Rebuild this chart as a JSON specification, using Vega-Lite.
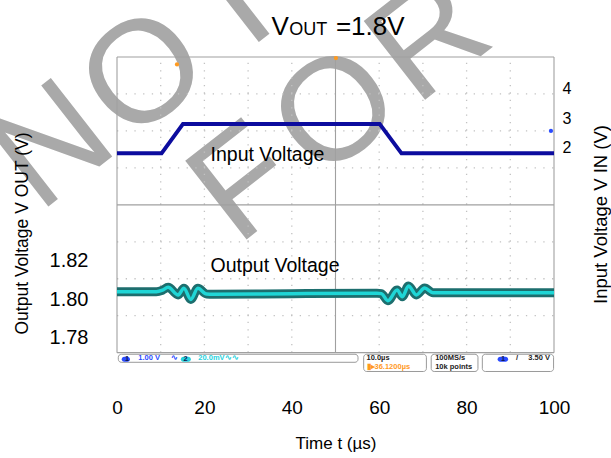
{
  "$schema": "https://vega.github.io/schema/vega-lite/v6.json",
  "width": 437,
  "height": 316,
  "autosize": {"type": "none"},
  "padding": {"left": 117, "top": 57, "right": 57, "bottom": 85},
  "background": "white",
  "config": {
    "view": {"stroke": null},
    "font": "Liberation Sans",
    "text": {"font": "Liberation Sans"},
    "axis": {"domain": false, "ticks": false, "grid": false, "labelFont": "Liberation Sans", "titleFont": "Liberation Sans", "labelColor": "#000000", "titleColor": "#000000", "titleFontWeight": "normal", "labelFlush": false, "labelOverlap": false, "zindex": 1}
  },
  "datasets": {
    "output": [
      {"t": 0, "v": 1.8038}, {"t": 9, "v": 1.8038}, {"t": 10.4, "v": 1.8046}, {"t": 11.7, "v": 1.8061},
      {"t": 14.0, "v": 1.8021}, {"t": 15.3, "v": 1.8056}, {"t": 16.9, "v": 1.7998}, {"t": 18.5, "v": 1.8056},
      {"t": 20.5, "v": 1.8026}, {"t": 22, "v": 1.8025}, {"t": 40, "v": 1.8028}, {"t": 59.5, "v": 1.803},
      {"t": 60.5, "v": 1.8028}, {"t": 62.0, "v": 1.7991}, {"t": 64.1, "v": 1.8047}, {"t": 65.3, "v": 1.8012},
      {"t": 66.7, "v": 1.8068}, {"t": 68.5, "v": 1.8021}, {"t": 70.4, "v": 1.8057}, {"t": 72.3, "v": 1.8033},
      {"t": 100, "v": 1.8033}
    ],
    "input": [
      {"t": 0, "v": 1.79}, {"t": 10.2, "v": 1.79}, {"t": 15.1, "v": 2.8}, {"t": 60.1, "v": 2.8}, {"t": 65.1, "v": 1.79}, {"t": 100, "v": 1.79}
    ],
    "notes": [
      {"which": "in", "t": 21.4, "v": 1.741, "s": "Input Voltage"},
      {"which": "out", "t": 21.4, "v": 1.81716, "s": "Output Voltage"}
    ],
    "watermark": [
      {"w": "N", "t": -14.6, "d": 5.57}, {"w": "O", "t": 6.4, "d": 7.5}, {"w": "T", "t": 27.5, "d": 9.46},
      {"w": "F", "t": 29.3, "d": 4.54}, {"w": "O", "t": 50.3, "d": 6.48}, {"w": "R", "t": 71.6, "d": 8.46}
    ],
    "vgrid": [
      {"t": 0, "k": "frame", "lo": 0, "hi": 8}, {"t": 10, "k": "minor", "lo": 0, "hi": 8}, {"t": 20, "k": "minor", "lo": 0, "hi": 8},
      {"t": 30, "k": "minor", "lo": 0, "hi": 8}, {"t": 40, "k": "minor", "lo": 0, "hi": 8}, {"t": 50, "k": "center", "lo": 0, "hi": 8},
      {"t": 60, "k": "minor", "lo": 0, "hi": 8}, {"t": 70, "k": "minor", "lo": 0, "hi": 8}, {"t": 80, "k": "minor", "lo": 0, "hi": 8},
      {"t": 90, "k": "minor", "lo": 0, "hi": 8}, {"t": 100, "k": "frame", "lo": 0, "hi": 8}
    ],
    "hgrid": [
      {"d": 0, "k": "frame", "lo": 0, "hi": 100}, {"d": 1, "k": "minor", "lo": 0, "hi": 100}, {"d": 2, "k": "minor", "lo": 0, "hi": 100},
      {"d": 3, "k": "minor", "lo": 0, "hi": 100}, {"d": 4, "k": "center", "lo": 0, "hi": 100}, {"d": 5, "k": "minor", "lo": 0, "hi": 100},
      {"d": 6, "k": "minor", "lo": 0, "hi": 100}, {"d": 7, "k": "minor", "lo": 0, "hi": 100}, {"d": 8, "k": "frame", "lo": 0, "hi": 100}
    ],
    "boxes": [
      {"t": 0.3, "t2": 55.15, "d": -0.043, "d2": -0.26},
      {"t": 56.45, "t2": 70.8, "d": -0.043, "d2": -0.509},
      {"t": 71.9, "t2": 82.6, "d": -0.043, "d2": -0.509},
      {"t": 83.6, "t2": 99.9, "d": -0.043, "d2": -0.509}
    ],
    "badges": [
      {"t": 1.08, "t2": 2.97, "d": -0.108, "d2": -0.243, "ch": "ch1"},
      {"t": 14.6, "t2": 16.9, "d": -0.108, "d2": -0.243, "ch": "ch2"},
      {"t": 87.1, "t2": 89.5, "d": -0.108, "d2": -0.243, "ch": "ch1"}
    ],
    "statusText": [
      {"t": 1.83, "d": -0.165, "s": "1", "ch": "dark"},
      {"t": 4.87, "d": -0.152, "s": "1.00 V", "ch": "ch1"},
      {"t": 12.3, "d": -0.152, "s": "∿", "ch": "ch1"},
      {"t": 15.24, "d": -0.165, "s": "2", "ch": "dark"},
      {"t": 18.6, "d": -0.152, "s": "20.0mV∿∿", "ch": "ch2"},
      {"t": 57.1, "d": -0.152, "s": "10.0µs", "ch": "black"},
      {"t": 57.1, "d": -0.379, "s": "▮▸36.1200µs", "ch": "orange"},
      {"t": 72.8, "d": -0.152, "s": "100MS/s", "ch": "black"},
      {"t": 72.8, "d": -0.379, "s": "10k points", "ch": "black"},
      {"t": 87.85, "d": -0.165, "s": "1", "ch": "dark"},
      {"t": 91.3, "d": -0.152, "s": "/", "ch": "black"},
      {"t": 94.1, "d": -0.152, "s": "3.50 V", "ch": "black"}
    ],
    "markers": [
      {"t": 13.73, "d": 7.8, "ch": "orange"},
      {"t": 50.1, "d": 7.97, "ch": "orange"},
      {"t": 99.3, "d": 6.0, "ch": "ch1"}
    ],
    "heading": [
      {"t": 35.35, "d": 8.595, "s": "V", "p": "main"},
      {"t": 39.4, "d": 8.595, "s": "OUT", "p": "sub"},
      {"t": 50.1, "d": 8.595, "s": "=1.8V", "p": "main"}
    ]
  },
  "layer": [
    {
      "data": {"name": "watermark"},
      "mark": {"type": "text", "fontSize": 145, "angle": -38, "color": "#a9a9a9", "align": "center", "baseline": "middle"},
      "encoding": {
        "x": {"field": "t", "type": "quantitative", "scale": {"domain": [0, 100], "nice": false, "zero": false}, "axis": {"orient": "bottom", "values": [0, 20, 40, 60, 80, 100], "labelFontSize": 19, "labelPadding": 25, "labelBaseline": "top", "title": "Time t (µs)", "titleFontSize": 17, "titleY": 62, "titleBaseline": "top", "titleAlign": "center", "zindex": 1}},
        "y": {"field": "d", "type": "quantitative", "scale": {"domain": [-0.55, 8], "nice": false, "zero": false}, "axis": null},
        "text": {"field": "w"}
      }
    },
    {
      "data": {"name": "vgrid"},
      "transform": [{"filter": "datum.k === 'minor'"}],
      "mark": {"type": "rule", "color": "#c2c2c2", "strokeWidth": 1.3, "strokeDash": [1.3, 6.1]},
      "encoding": {
        "x": {"field": "t", "type": "quantitative", "scale": {"domain": [0, 100], "nice": false, "zero": false}, "axis": {"orient": "bottom", "values": [0, 20, 40, 60, 80, 100], "labelFontSize": 19, "labelPadding": 25, "labelBaseline": "top", "title": "Time t (µs)", "titleFontSize": 17, "titleY": 62, "titleBaseline": "top", "titleAlign": "center", "zindex": 1}},
        "y": {"field": "lo", "type": "quantitative", "scale": {"domain": [-0.55, 8], "nice": false, "zero": false}, "axis": null},
        "y2": {"field": "hi"}
      }
    },
    {
      "data": {"name": "hgrid"},
      "transform": [{"filter": "datum.k === 'minor'"}],
      "mark": {"type": "rule", "color": "#c2c2c2", "strokeWidth": 1.3, "strokeDash": [1.3, 7.4]},
      "encoding": {
        "x": {"field": "lo", "type": "quantitative", "scale": {"domain": [0, 100], "nice": false, "zero": false}, "axis": {"orient": "bottom", "values": [0, 20, 40, 60, 80, 100], "labelFontSize": 19, "labelPadding": 25, "labelBaseline": "top", "title": "Time t (µs)", "titleFontSize": 17, "titleY": 62, "titleBaseline": "top", "titleAlign": "center", "zindex": 1}},
        "x2": {"field": "hi"},
        "y": {"field": "d", "type": "quantitative", "scale": {"domain": [-0.55, 8], "nice": false, "zero": false}, "axis": null}
      }
    },
    {
      "data": {"name": "vgrid"},
      "transform": [{"filter": "datum.k !== 'minor'"}],
      "mark": {"type": "rule", "color": "#a0a0a0", "strokeWidth": 1.1},
      "encoding": {
        "x": {"field": "t", "type": "quantitative", "scale": {"domain": [0, 100], "nice": false, "zero": false}, "axis": {"orient": "bottom", "values": [0, 20, 40, 60, 80, 100], "labelFontSize": 19, "labelPadding": 25, "labelBaseline": "top", "title": "Time t (µs)", "titleFontSize": 17, "titleY": 62, "titleBaseline": "top", "titleAlign": "center", "zindex": 1}},
        "y": {"field": "lo", "type": "quantitative", "scale": {"domain": [-0.55, 8], "nice": false, "zero": false}, "axis": null},
        "y2": {"field": "hi"}
      }
    },
    {
      "data": {"name": "hgrid"},
      "transform": [{"filter": "datum.k !== 'minor'"}],
      "mark": {"type": "rule", "color": "#a0a0a0", "strokeWidth": 1.1},
      "encoding": {
        "x": {"field": "lo", "type": "quantitative", "scale": {"domain": [0, 100], "nice": false, "zero": false}, "axis": {"orient": "bottom", "values": [0, 20, 40, 60, 80, 100], "labelFontSize": 19, "labelPadding": 25, "labelBaseline": "top", "title": "Time t (µs)", "titleFontSize": 17, "titleY": 62, "titleBaseline": "top", "titleAlign": "center", "zindex": 1}},
        "x2": {"field": "hi"},
        "y": {"field": "d", "type": "quantitative", "scale": {"domain": [-0.55, 8], "nice": false, "zero": false}, "axis": null}
      }
    },
    {
      "data": {"name": "boxes"},
      "mark": {"type": "rect", "fill": "#ffffff", "stroke": "#9a9a9a", "strokeWidth": 1, "cornerRadius": 3},
      "encoding": {
        "x": {"field": "t", "type": "quantitative", "scale": {"domain": [0, 100], "nice": false, "zero": false}, "axis": {"orient": "bottom", "values": [0, 20, 40, 60, 80, 100], "labelFontSize": 19, "labelPadding": 25, "labelBaseline": "top", "title": "Time t (µs)", "titleFontSize": 17, "titleY": 62, "titleBaseline": "top", "titleAlign": "center", "zindex": 1}},
        "x2": {"field": "t2"},
        "y": {"field": "d", "type": "quantitative", "scale": {"domain": [-0.55, 8], "nice": false, "zero": false}, "axis": null},
        "y2": {"field": "d2"}
      }
    },
    {
      "data": {"name": "badges"},
      "mark": {"type": "rect", "cornerRadius": 3},
      "encoding": {
        "x": {"field": "t", "type": "quantitative", "scale": {"domain": [0, 100], "nice": false, "zero": false}, "axis": {"orient": "bottom", "values": [0, 20, 40, 60, 80, 100], "labelFontSize": 19, "labelPadding": 25, "labelBaseline": "top", "title": "Time t (µs)", "titleFontSize": 17, "titleY": 62, "titleBaseline": "top", "titleAlign": "center", "zindex": 1}},
        "x2": {"field": "t2"},
        "y": {"field": "d", "type": "quantitative", "scale": {"domain": [-0.55, 8], "nice": false, "zero": false}, "axis": null},
        "y2": {"field": "d2"},
        "color": {"field": "ch", "type": "nominal", "scale": {"domain": ["ch1", "ch2", "orange", "dark", "black"], "range": ["#2a4bff", "#27d3e0", "#ff9a1f", "#101850", "#222222"]}, "legend": null}
      }
    },
    {
      "data": {"name": "statusText"},
      "mark": {"type": "text", "fontSize": 7.5, "fontWeight": "bold", "align": "left", "baseline": "middle"},
      "encoding": {
        "x": {"field": "t", "type": "quantitative", "scale": {"domain": [0, 100], "nice": false, "zero": false}, "axis": {"orient": "bottom", "values": [0, 20, 40, 60, 80, 100], "labelFontSize": 19, "labelPadding": 25, "labelBaseline": "top", "title": "Time t (µs)", "titleFontSize": 17, "titleY": 62, "titleBaseline": "top", "titleAlign": "center", "zindex": 1}},
        "y": {"field": "d", "type": "quantitative", "scale": {"domain": [-0.55, 8], "nice": false, "zero": false}, "axis": null},
        "text": {"field": "s"},
        "color": {"field": "ch", "type": "nominal", "scale": {"domain": ["ch1", "ch2", "orange", "dark", "black"], "range": ["#2a4bff", "#27d3e0", "#ff9a1f", "#101850", "#222222"]}, "legend": null}
      }
    },
    {
      "data": {"name": "markers"},
      "mark": {"type": "point", "filled": true, "size": 18, "opacity": 1},
      "encoding": {
        "x": {"field": "t", "type": "quantitative", "scale": {"domain": [0, 100], "nice": false, "zero": false}, "axis": {"orient": "bottom", "values": [0, 20, 40, 60, 80, 100], "labelFontSize": 19, "labelPadding": 25, "labelBaseline": "top", "title": "Time t (µs)", "titleFontSize": 17, "titleY": 62, "titleBaseline": "top", "titleAlign": "center", "zindex": 1}},
        "y": {"field": "d", "type": "quantitative", "scale": {"domain": [-0.55, 8], "nice": false, "zero": false}, "axis": null},
        "color": {"field": "ch", "type": "nominal", "scale": {"domain": ["ch1", "ch2", "orange", "dark", "black"], "range": ["#2a4bff", "#27d3e0", "#ff9a1f", "#101850", "#222222"]}, "legend": null}
      }
    },
    {
      "data": {"name": "heading"},
      "transform": [{"filter": "datum.p === 'main'"}],
      "mark": {"type": "text", "fontSize": 26, "align": "left", "baseline": "alphabetic", "color": "#000000"},
      "encoding": {
        "x": {"field": "t", "type": "quantitative", "scale": {"domain": [0, 100], "nice": false, "zero": false}, "axis": {"orient": "bottom", "values": [0, 20, 40, 60, 80, 100], "labelFontSize": 19, "labelPadding": 25, "labelBaseline": "top", "title": "Time t (µs)", "titleFontSize": 17, "titleY": 62, "titleBaseline": "top", "titleAlign": "center", "zindex": 1}},
        "y": {"field": "d", "type": "quantitative", "scale": {"domain": [-0.55, 8], "nice": false, "zero": false}, "axis": null},
        "text": {"field": "s"}
      }
    },
    {
      "data": {"name": "heading"},
      "transform": [{"filter": "datum.p === 'sub'"}],
      "mark": {"type": "text", "fontSize": 18, "align": "left", "baseline": "alphabetic", "color": "#000000"},
      "encoding": {
        "x": {"field": "t", "type": "quantitative", "scale": {"domain": [0, 100], "nice": false, "zero": false}, "axis": {"orient": "bottom", "values": [0, 20, 40, 60, 80, 100], "labelFontSize": 19, "labelPadding": 25, "labelBaseline": "top", "title": "Time t (µs)", "titleFontSize": 17, "titleY": 62, "titleBaseline": "top", "titleAlign": "center", "zindex": 1}},
        "y": {"field": "d", "type": "quantitative", "scale": {"domain": [-0.55, 8], "nice": false, "zero": false}, "axis": null},
        "text": {"field": "s"}
      }
    },
    {
      "data": {"name": "output"},
      "mark": {"type": "line", "color": "#1d6e6e", "strokeWidth": 9, "interpolate": "monotone"},
      "encoding": {
        "x": {"field": "t", "type": "quantitative", "scale": {"domain": [0, 100], "nice": false, "zero": false}, "axis": {"orient": "bottom", "values": [0, 20, 40, 60, 80, 100], "labelFontSize": 19, "labelPadding": 25, "labelBaseline": "top", "title": "Time t (µs)", "titleFontSize": 17, "titleY": 62, "titleBaseline": "top", "titleAlign": "center", "zindex": 1}},
        "y": {"field": "v", "type": "quantitative", "scale": {"domain": [1.76141, 1.9262], "nice": false, "zero": false},
              "axis": {"orient": "left", "values": [1.78, 1.8, 1.82], "format": ".2f", "labelFontSize": 20, "labelPadding": 29, "title": "Output Voltage V OUT (V)", "titleFontSize": 17.5, "titleAngle": -90, "titleX": -90, "titleY": 176, "titleAlign": "center", "titleBaseline": "alphabetic", "zindex": 1}}
      }
    },
    {
      "data": {"name": "output"},
      "mark": {"type": "line", "color": "#1fd6d6", "strokeWidth": 3.5, "interpolate": "monotone"},
      "encoding": {
        "x": {"field": "t", "type": "quantitative", "scale": {"domain": [0, 100], "nice": false, "zero": false}, "axis": {"orient": "bottom", "values": [0, 20, 40, 60, 80, 100], "labelFontSize": 19, "labelPadding": 25, "labelBaseline": "top", "title": "Time t (µs)", "titleFontSize": 17, "titleY": 62, "titleBaseline": "top", "titleAlign": "center", "zindex": 1}},
        "y": {"field": "v", "type": "quantitative", "scale": {"domain": [1.76141, 1.9262], "nice": false, "zero": false}, "axis": null}
      }
    },
    {
      "data": {"name": "notes"},
      "transform": [{"filter": "datum.which === 'out'"}],
      "mark": {"type": "text", "fontSize": 19.5, "align": "left", "baseline": "middle", "color": "#000000"},
      "encoding": {
        "x": {"field": "t", "type": "quantitative", "scale": {"domain": [0, 100], "nice": false, "zero": false}, "axis": {"orient": "bottom", "values": [0, 20, 40, 60, 80, 100], "labelFontSize": 19, "labelPadding": 25, "labelBaseline": "top", "title": "Time t (µs)", "titleFontSize": 17, "titleY": 62, "titleBaseline": "top", "titleAlign": "center", "zindex": 1}},
        "y": {"field": "v", "type": "quantitative", "scale": {"domain": [1.76141, 1.9262], "nice": false, "zero": false}, "axis": null},
        "text": {"field": "s"}
      }
    },
    {
      "data": {"name": "input"},
      "mark": {"type": "line", "color": "#0c0c9e", "strokeWidth": 4},
      "encoding": {
        "x": {"field": "t", "type": "quantitative", "scale": {"domain": [0, 100], "nice": false, "zero": false}, "axis": {"orient": "bottom", "values": [0, 20, 40, 60, 80, 100], "labelFontSize": 19, "labelPadding": 25, "labelBaseline": "top", "title": "Time t (µs)", "titleFontSize": 17, "titleY": 62, "titleBaseline": "top", "titleAlign": "center", "zindex": 1}},
        "y": {"field": "v", "type": "quantitative", "scale": {"domain": [-5.745, 5.096], "nice": false, "zero": false},
              "axis": {"orient": "right", "values": [2, 3, 4], "format": "d", "labelFontSize": 16, "labelPadding": 8, "title": "Input Voltage V IN (V)", "titleFontSize": 18.5, "titleAngle": -90, "titleX": 52, "titleY": 157, "titleAlign": "center", "titleBaseline": "alphabetic", "zindex": 1}}
      }
    },
    {
      "data": {"name": "notes"},
      "transform": [{"filter": "datum.which === 'in'"}],
      "mark": {"type": "text", "fontSize": 19.5, "align": "left", "baseline": "middle", "color": "#000000"},
      "encoding": {
        "x": {"field": "t", "type": "quantitative", "scale": {"domain": [0, 100], "nice": false, "zero": false}, "axis": {"orient": "bottom", "values": [0, 20, 40, 60, 80, 100], "labelFontSize": 19, "labelPadding": 25, "labelBaseline": "top", "title": "Time t (µs)", "titleFontSize": 17, "titleY": 62, "titleBaseline": "top", "titleAlign": "center", "zindex": 1}},
        "y": {"field": "v", "type": "quantitative", "scale": {"domain": [-5.745, 5.096], "nice": false, "zero": false}, "axis": null},
        "text": {"field": "s"}
      }
    }
  ],
  "resolve": {"scale": {"y": "independent"}}
}
